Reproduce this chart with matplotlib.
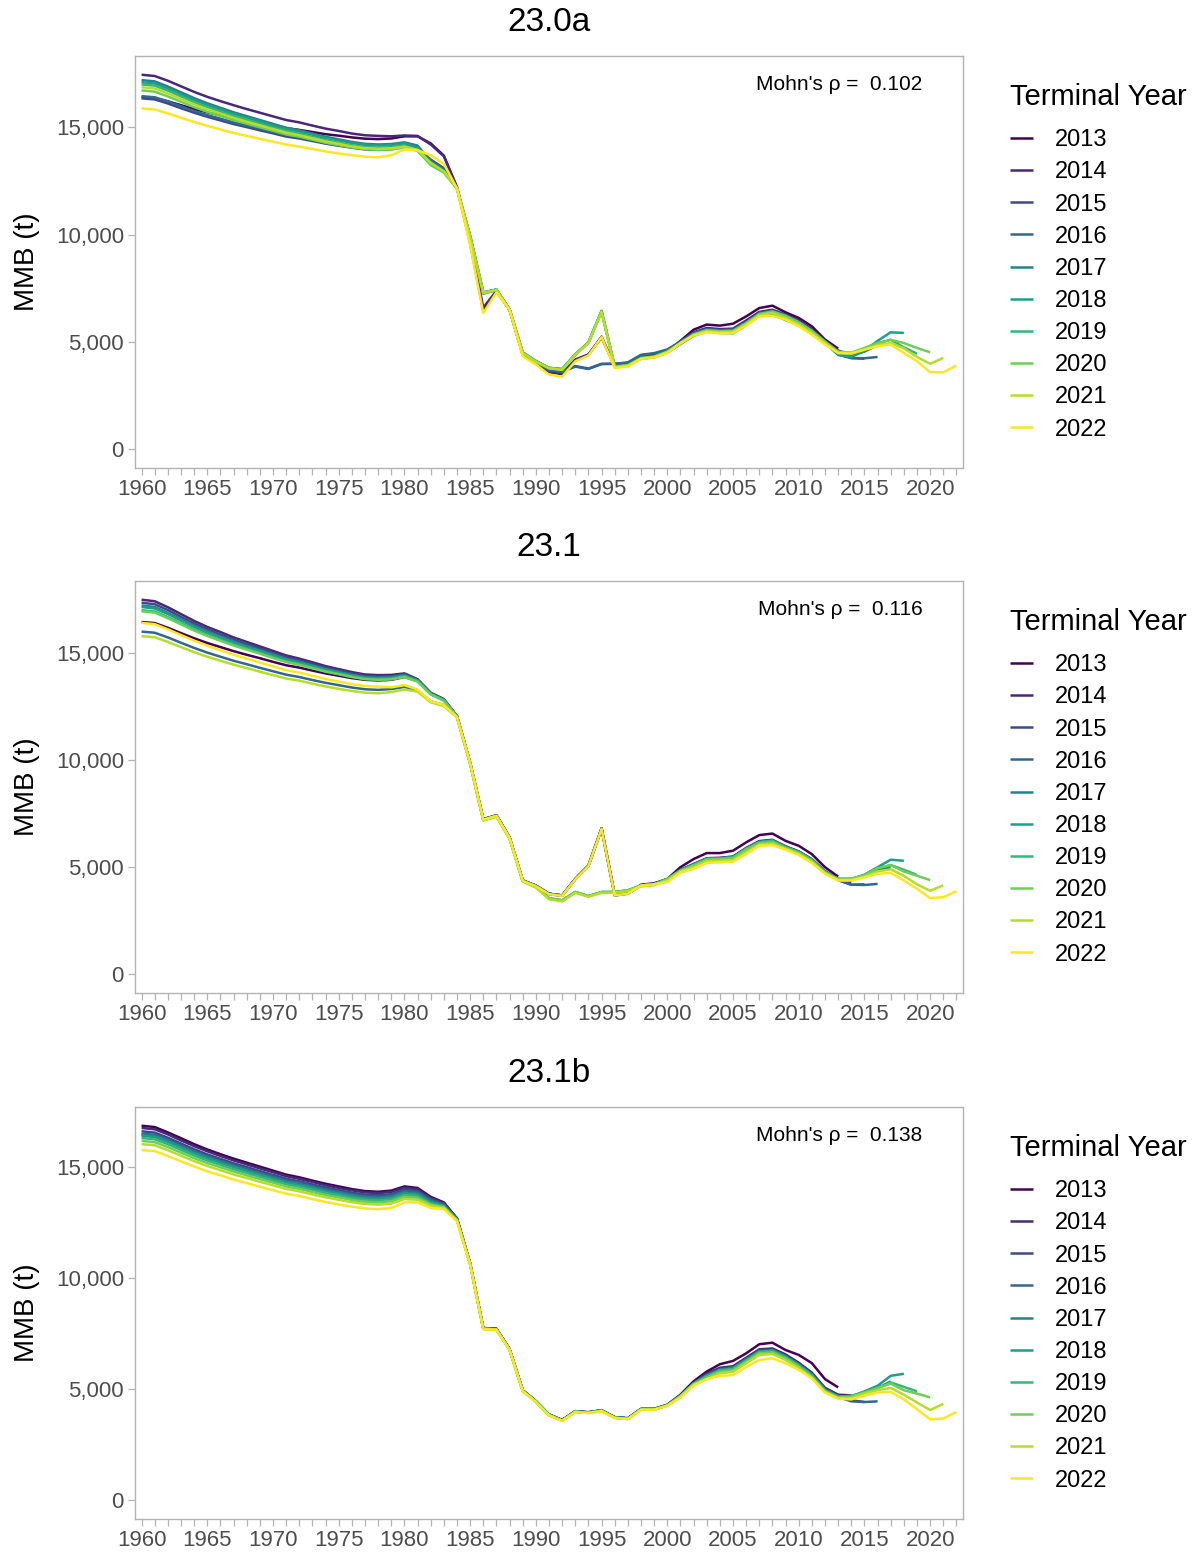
import numpy as np
import matplotlib
matplotlib.use("Agg")
import matplotlib.pyplot as plt
from matplotlib.ticker import MultipleLocator, FuncFormatter

plt.rcParams["font.family"] = ["Liberation Sans", "DejaVu Sans"]

# ---- data: MMB in thousand t, 1960 .. terminal year ----
terminal_years = [2013, 2014, 2015, 2016, 2017, 2018, 2019, 2020, 2021, 2022]
panel_titles = ["23.0a", "23.1", "23.1b"]
mohns_rho = [0.102, 0.116, 0.138]

# model 23.0a
m230a_2013 = [16.40, 16.36, 16.21, 16.03, 15.85, 15.70, 15.56, 15.43, 15.31, 15.19,
              15.07, 14.96, 14.88, 14.78, 14.68, 14.61, 14.53, 14.47, 14.45, 14.48,
              14.58, 14.58, 14.25, 13.68, 12.20, 9.60, 6.45, 7.35, 6.50, 4.40,
              4.00, 3.60, 3.50, 4.15, 4.40, 5.25, 3.85, 3.95, 4.30, 4.38,
              4.55, 5.05, 5.57, 5.81, 5.76, 5.85, 6.19, 6.58, 6.69, 6.38,
              6.12, 5.73, 5.11, 4.69]
m230a_2014 = [17.45, 17.39, 17.17, 16.91, 16.65, 16.42, 16.22, 16.03, 15.85, 15.68,
              15.51, 15.34, 15.23, 15.08, 14.94, 14.83, 14.71, 14.63, 14.60, 14.58,
              14.62, 14.60, 14.20, 13.65, 12.20, 9.70, 6.60, 7.38, 6.50, 4.42,
              4.02, 3.62, 3.52, 4.18, 4.42, 5.20, 3.88, 3.95, 4.32, 4.40,
              4.60, 5.00, 5.45, 5.65, 5.60, 5.62, 6.00, 6.40, 6.50, 6.28,
              6.00, 5.60, 5.05, 4.60, 4.40]
m230a_2015 = [16.35, 16.30, 16.11, 15.89, 15.68, 15.49, 15.32, 15.15, 15.01, 14.86,
              14.72, 14.57, 14.48, 14.36, 14.24, 14.14, 14.05, 13.97, 13.95, 13.98,
              14.10, 14.00, 13.45, 13.05, 12.15, 9.85, 7.25, 7.42, 6.50, 4.45,
              4.05, 3.70, 3.62, 3.88, 3.76, 3.98, 3.98, 4.02, 4.38, 4.45,
              4.62, 5.00, 5.40, 5.58, 5.52, 5.55, 5.90, 6.32, 6.42, 6.22,
              5.92, 5.52, 5.00, 4.45, 4.25, 4.22]
m230a_2016 = [16.45, 16.40, 16.21, 15.98, 15.76, 15.57, 15.40, 15.23, 15.08, 14.93,
              14.78, 14.64, 14.54, 14.42, 14.29, 14.20, 14.10, 14.03, 14.00, 14.03,
              14.15, 14.05, 13.50, 13.10, 12.15, 9.90, 7.30, 7.43, 6.50, 4.45,
              4.05, 3.68, 3.60, 3.85, 3.74, 3.97, 3.98, 4.05, 4.40, 4.48,
              4.65, 5.02, 5.42, 5.60, 5.55, 5.58, 5.92, 6.35, 6.45, 6.25,
              5.95, 5.55, 5.02, 4.40, 4.25, 4.24, 4.30]
m230a_2017 = [17.20, 17.14, 16.90, 16.63, 16.36, 16.12, 15.91, 15.70, 15.52, 15.34,
              15.16, 14.98, 14.86, 14.71, 14.56, 14.44, 14.32, 14.23, 14.20, 14.22,
              14.30, 14.15, 13.40, 13.00, 12.15, 9.95, 7.30, 7.45, 6.52, 4.52,
              4.12, 3.80, 3.74, 4.43, 4.98, 6.45, 3.86, 3.93, 4.26, 4.33,
              4.56, 4.96, 5.36, 5.56, 5.50, 5.52, 5.88, 6.30, 6.42, 6.20,
              5.90, 5.50, 5.00, 4.50, 4.35, 4.55, 4.85, 4.90]
m230a_2018 = [17.10, 17.04, 16.81, 16.54, 16.27, 16.04, 15.83, 15.63, 15.45, 15.27,
              15.09, 14.92, 14.80, 14.65, 14.50, 14.39, 14.27, 14.18, 14.15, 14.17,
              14.25, 14.05, 13.30, 12.95, 12.15, 9.92, 7.30, 7.44, 6.50, 4.50,
              4.10, 3.78, 3.72, 4.42, 4.97, 6.44, 3.84, 3.90, 4.22, 4.30,
              4.52, 4.92, 5.32, 5.52, 5.46, 5.45, 5.80, 6.22, 6.30, 6.02,
              5.78, 5.45, 4.95, 4.40, 4.30, 4.60, 5.05, 5.45, 5.42]
m230a_2019 = [17.00, 16.94, 16.71, 16.44, 16.17, 15.94, 15.73, 15.53, 15.35, 15.17,
              14.99, 14.82, 14.70, 14.55, 14.40, 14.29, 14.17, 14.08, 14.05, 14.07,
              14.15, 13.95, 13.25, 12.90, 12.15, 9.90, 7.28, 7.43, 6.50, 4.50,
              4.10, 3.79, 3.72, 4.41, 4.96, 6.42, 3.85, 3.90, 4.22, 4.28,
              4.50, 4.90, 5.28, 5.48, 5.42, 5.40, 5.78, 6.22, 6.35, 6.12,
              5.85, 5.45, 4.95, 4.45, 4.45, 4.70, 4.95, 5.10, 4.75, 4.45]
m230a_2020 = [16.72, 16.66, 16.44, 16.19, 15.94, 15.72, 15.53, 15.34, 15.17, 15.00,
              14.84, 14.67, 14.56, 14.42, 14.28, 14.17, 14.06, 13.98, 13.95, 13.97,
              14.05, 13.90, 13.25, 12.90, 12.15, 9.90, 7.28, 7.43, 6.50, 4.50,
              4.10, 3.79, 3.72, 4.41, 4.96, 6.42, 3.85, 3.92, 4.25, 4.32,
              4.55, 4.95, 5.35, 5.55, 5.50, 5.52, 5.88, 6.30, 6.42, 6.22,
              5.92, 5.52, 5.02, 4.55, 4.50, 4.72, 4.95, 5.10, 4.95, 4.72,
              4.52]
m230a_2021 = [16.87, 16.81, 16.58, 16.32, 16.07, 15.84, 15.64, 15.44, 15.26, 15.09,
              14.92, 14.75, 14.63, 14.49, 14.34, 14.23, 14.11, 14.03, 14.00, 14.02,
              14.10, 13.95, 13.35, 12.95, 12.15, 9.90, 7.28, 7.43, 6.50, 4.48,
              4.08, 3.77, 3.70, 4.40, 4.95, 6.40, 3.83, 3.90, 4.23, 4.30,
              4.52, 4.93, 5.32, 5.50, 5.45, 5.47, 5.82, 6.25, 6.35, 6.12,
              5.82, 5.42, 4.95, 4.50, 4.48, 4.65, 4.85, 4.95, 4.70, 4.30,
              3.98, 4.26]
m230a_2022 = [15.88, 15.83, 15.65, 15.45, 15.25, 15.07, 14.90, 14.74, 14.60, 14.46,
              14.33, 14.20, 14.10, 13.99, 13.88, 13.78, 13.70, 13.63, 13.60, 13.70,
              13.97, 13.93, 13.70, 13.30, 12.15, 9.50, 6.35, 7.31, 6.50, 4.33,
              3.95, 3.48, 3.38, 4.10, 4.37, 5.23, 3.79, 3.85, 4.21, 4.28,
              4.49, 4.95, 5.30, 5.45, 5.40, 5.42, 5.76, 6.19, 6.22, 6.04,
              5.73, 5.34, 4.88, 4.49, 4.46, 4.64, 4.80, 4.88, 4.49, 4.10,
              3.59, 3.59, 3.90]

# model 23.1
m231_2013 = [16.45, 16.40, 16.18, 15.93, 15.69, 15.47, 15.28, 15.09, 14.92, 14.76,
             14.59, 14.43, 14.32, 14.18, 14.05, 13.94, 13.83, 13.75, 13.72, 13.75,
             13.88, 13.70, 13.10, 12.80, 12.05, 9.87, 7.24, 7.42, 6.39, 4.38,
             4.14, 3.76, 3.68, 4.45, 5.07, 6.81, 3.68, 3.78, 4.18, 4.25,
             4.45, 5.00, 5.38, 5.66, 5.66, 5.77, 6.16, 6.50, 6.57, 6.23,
             6.00, 5.61, 5.00, 4.56]
m231_2014 = [17.49, 17.42, 17.14, 16.82, 16.50, 16.22, 15.98, 15.73, 15.52, 15.31,
             15.10, 14.89, 14.74, 14.57, 14.39, 14.25, 14.11, 14.00, 13.97, 13.98,
             14.05, 13.78, 13.15, 12.85, 12.05, 9.87, 7.24, 7.42, 6.39, 4.38,
             4.14, 3.76, 3.68, 4.45, 5.07, 6.81, 3.70, 3.78, 4.17, 4.22,
             4.42, 4.88, 5.15, 5.42, 5.44, 5.50, 5.90, 6.22, 6.28, 5.98,
             5.74, 5.38, 4.82, 4.45, 4.30]
m231_2015 = [17.35, 17.28, 17.01, 16.69, 16.38, 16.11, 15.87, 15.63, 15.42, 15.21,
             15.00, 14.80, 14.66, 14.49, 14.31, 14.18, 14.04, 13.93, 13.90, 13.92,
             14.00, 13.75, 13.13, 12.83, 12.05, 9.87, 7.24, 7.42, 6.39, 4.38,
             4.14, 3.76, 3.68, 4.45, 5.07, 6.81, 3.70, 3.78, 4.16, 4.22,
             4.42, 4.86, 5.12, 5.40, 5.42, 5.47, 5.87, 6.18, 6.25, 5.95,
             5.72, 5.35, 4.78, 4.40, 4.18, 4.20]
m231_2016 = [16.00, 15.95, 15.73, 15.48, 15.24, 15.02, 14.83, 14.64, 14.48, 14.31,
             14.15, 13.99, 13.88, 13.74, 13.61, 13.50, 13.39, 13.31, 13.28, 13.32,
             13.42, 13.25, 12.75, 12.57, 12.00, 9.85, 7.22, 7.40, 6.37, 4.36,
             4.12, 3.74, 3.66, 4.43, 5.05, 6.79, 3.68, 3.76, 4.15, 4.20,
             4.40, 4.85, 5.10, 5.38, 5.40, 5.45, 5.85, 6.16, 6.22, 5.92,
             5.70, 5.33, 4.76, 4.40, 4.18, 4.17, 4.22]
m231_2017 = [17.22, 17.15, 16.88, 16.58, 16.28, 16.01, 15.77, 15.54, 15.33, 15.13,
             14.93, 14.73, 14.59, 14.42, 14.25, 14.12, 13.98, 13.88, 13.85, 13.87,
             13.97, 13.73, 13.12, 12.82, 12.05, 9.87, 7.24, 7.42, 6.39, 4.38,
             4.14, 3.76, 3.68, 4.45, 5.07, 6.81, 3.70, 3.78, 4.15, 4.22,
             4.42, 4.85, 5.10, 5.38, 5.40, 5.45, 5.85, 6.16, 6.23, 5.93,
             5.70, 5.34, 4.77, 4.45, 4.42, 4.58, 4.88, 5.00]
m231_2018 = [17.15, 17.08, 16.82, 16.52, 16.22, 15.95, 15.72, 15.48, 15.28, 15.09,
             14.89, 14.69, 14.55, 14.39, 14.22, 14.09, 13.95, 13.85, 13.82, 13.84,
             13.94, 13.72, 13.10, 12.80, 12.05, 9.85, 7.20, 7.38, 6.35, 4.35,
             4.08, 3.55, 3.45, 3.84, 3.65, 3.84, 3.84, 3.92, 4.14, 4.20,
             4.45, 4.87, 5.12, 5.40, 5.42, 5.47, 5.87, 6.18, 6.25, 5.95,
             5.72, 5.36, 4.80, 4.45, 4.45, 4.65, 5.00, 5.35, 5.30]
m231_2019 = [17.00, 16.94, 16.68, 16.39, 16.10, 15.84, 15.61, 15.39, 15.19, 15.00,
             14.80, 14.61, 14.48, 14.32, 14.16, 14.03, 13.90, 13.80, 13.77, 13.79,
             13.90, 13.68, 13.08, 12.78, 12.03, 9.85, 7.20, 7.38, 6.35, 4.35,
             4.08, 3.55, 3.45, 3.84, 3.65, 3.84, 3.84, 3.92, 4.14, 4.20,
             4.45, 4.85, 5.10, 5.38, 5.40, 5.45, 5.85, 6.16, 6.23, 5.93,
             5.70, 5.34, 4.77, 4.45, 4.45, 4.62, 4.95, 5.10, 4.88, 4.64]
m231_2020 = [16.95, 16.89, 16.63, 16.34, 16.05, 15.80, 15.57, 15.35, 15.16, 14.97,
             14.77, 14.58, 14.45, 14.29, 14.13, 14.01, 13.88, 13.78, 13.75, 13.77,
             13.88, 13.66, 13.07, 12.77, 12.03, 9.85, 7.20, 7.38, 6.35, 4.35,
             4.08, 3.55, 3.45, 3.84, 3.65, 3.84, 3.84, 3.92, 4.14, 4.20,
             4.43, 4.83, 5.08, 5.35, 5.38, 5.42, 5.82, 6.12, 6.18, 5.90,
             5.66, 5.30, 4.75, 4.45, 4.47, 4.62, 4.95, 5.10, 4.80, 4.60,
             4.40]
m231_2021 = [15.79, 15.74, 15.52, 15.28, 15.04, 14.83, 14.64, 14.46, 14.30, 14.13,
             13.97, 13.81, 13.71, 13.57, 13.44, 13.33, 13.23, 13.15, 13.12, 13.18,
             13.30, 13.20, 12.70, 12.52, 12.00, 9.83, 7.18, 7.36, 6.33, 4.33,
             4.05, 3.50, 3.40, 3.80, 3.62, 3.80, 3.80, 3.88, 4.10, 4.16,
             4.38, 4.80, 5.00, 5.28, 5.30, 5.33, 5.70, 6.06, 6.10, 5.86,
             5.62, 5.25, 4.72, 4.40, 4.40, 4.55, 4.80, 4.90, 4.60, 4.20,
             3.90, 4.15]
m231_2022 = [16.41, 16.35, 16.11, 15.84, 15.58, 15.34, 15.13, 14.92, 14.74, 14.56,
             14.38, 14.20, 14.09, 13.94, 13.79, 13.67, 13.55, 13.46, 13.43, 13.40,
             13.50, 13.30, 12.75, 12.58, 12.00, 9.85, 7.22, 7.40, 6.37, 4.36,
             4.12, 3.74, 3.66, 4.43, 5.05, 6.79, 3.68, 3.76, 4.14, 4.20,
             4.30, 4.75, 4.92, 5.20, 5.23, 5.26, 5.61, 6.00, 6.03, 5.82,
             5.57, 5.20, 4.69, 4.38, 4.38, 4.53, 4.69, 4.74, 4.38, 3.99,
             3.56, 3.60, 3.88]

# model 23.1b
m231b_2013 = [16.85, 16.79, 16.55, 16.29, 16.02, 15.78, 15.57, 15.37, 15.19, 15.01,
              14.83, 14.65, 14.53, 14.38, 14.24, 14.12, 14.00, 13.91, 13.88, 13.93,
              14.12, 14.05, 13.65, 13.40, 12.68, 10.66, 7.75, 7.72, 6.80, 4.95,
              4.46, 3.86, 3.61, 4.01, 3.96, 4.05, 3.74, 3.69, 4.11, 4.11,
              4.30, 4.75, 5.35, 5.79, 6.12, 6.27, 6.61, 7.02, 7.09, 6.76,
              6.54, 6.17, 5.45, 5.08]
m231b_2014 = [16.75, 16.69, 16.46, 16.19, 15.93, 15.70, 15.49, 15.29, 15.11, 14.93,
              14.76, 14.58, 14.46, 14.32, 14.17, 14.05, 13.94, 13.85, 13.82, 13.87,
              14.06, 14.00, 13.60, 13.37, 12.67, 10.65, 7.74, 7.71, 6.80, 4.95,
              4.46, 3.86, 3.61, 4.01, 3.96, 4.05, 3.74, 3.69, 4.11, 4.11,
              4.29, 4.72, 5.28, 5.70, 5.96, 6.03, 6.41, 6.79, 6.83, 6.56,
              6.19, 5.74, 5.06, 4.75, 4.72]
m231b_2015 = [16.60, 16.54, 16.31, 16.05, 15.79, 15.56, 15.36, 15.16, 14.99, 14.81,
              14.64, 14.47, 14.35, 14.21, 14.07, 13.95, 13.84, 13.75, 13.72, 13.77,
              13.98, 13.92, 13.55, 13.33, 12.66, 10.65, 7.74, 7.71, 6.79, 4.94,
              4.45, 3.85, 3.60, 4.00, 3.95, 4.04, 3.73, 3.68, 4.10, 4.10,
              4.28, 4.71, 5.27, 5.65, 5.91, 5.98, 6.36, 6.74, 6.78, 6.51,
              6.14, 5.69, 5.01, 4.70, 4.50, 4.42]
m231b_2016 = [16.50, 16.44, 16.22, 15.96, 15.70, 15.47, 15.27, 15.08, 14.90, 14.73,
              14.56, 14.39, 14.28, 14.13, 13.99, 13.88, 13.76, 13.68, 13.65, 13.70,
              13.90, 13.85, 13.50, 13.30, 12.65, 10.64, 7.73, 7.70, 6.79, 4.94,
              4.45, 3.85, 3.60, 4.00, 3.95, 4.04, 3.73, 3.68, 4.10, 4.10,
              4.28, 4.70, 5.26, 5.63, 5.89, 5.96, 6.34, 6.72, 6.76, 6.49,
              6.12, 5.67, 4.99, 4.65, 4.45, 4.42, 4.45]
m231b_2017 = [16.45, 16.39, 16.17, 15.91, 15.65, 15.42, 15.22, 15.03, 14.85, 14.68,
              14.51, 14.34, 14.23, 14.08, 13.94, 13.83, 13.71, 13.63, 13.60, 13.65,
              13.85, 13.80, 13.45, 13.27, 12.64, 10.64, 7.73, 7.70, 6.79, 4.94,
              4.45, 3.85, 3.60, 4.00, 3.95, 4.04, 3.73, 3.68, 4.10, 4.10,
              4.28, 4.70, 5.25, 5.60, 5.86, 5.93, 6.31, 6.69, 6.73, 6.46,
              6.09, 5.64, 4.96, 4.68, 4.65, 4.85, 5.05, 5.34]
m231b_2018 = [16.40, 16.34, 16.12, 15.86, 15.60, 15.37, 15.17, 14.98, 14.80, 14.63,
              14.46, 14.29, 14.18, 14.03, 13.89, 13.78, 13.66, 13.58, 13.55, 13.60,
              13.80, 13.75, 13.40, 13.25, 12.63, 10.63, 7.72, 7.69, 6.78, 4.93,
              4.44, 3.84, 3.59, 3.99, 3.94, 4.03, 3.72, 3.67, 4.09, 4.09,
              4.27, 4.70, 5.25, 5.60, 5.86, 5.93, 6.31, 6.69, 6.73, 6.46,
              6.09, 5.64, 4.96, 4.68, 4.68, 4.90, 5.15, 5.60, 5.69]
m231b_2019 = [16.30, 16.24, 16.02, 15.76, 15.51, 15.28, 15.09, 14.89, 14.72, 14.55,
              14.38, 14.21, 14.10, 13.96, 13.82, 13.71, 13.59, 13.51, 13.48, 13.53,
              13.73, 13.68, 13.35, 13.22, 12.62, 10.63, 7.72, 7.69, 6.78, 4.93,
              4.44, 3.84, 3.59, 3.99, 3.94, 4.03, 3.72, 3.67, 4.09, 4.09,
              4.27, 4.69, 5.24, 5.57, 5.83, 5.90, 6.28, 6.66, 6.70, 6.43,
              6.06, 5.61, 4.93, 4.66, 4.70, 4.85, 5.05, 5.30, 5.10, 4.90]
m231b_2020 = [16.17, 16.11, 15.89, 15.64, 15.39, 15.17, 14.98, 14.79, 14.62, 14.45,
              14.29, 14.12, 14.01, 13.87, 13.73, 13.62, 13.51, 13.43, 13.40, 13.45,
              13.65, 13.60, 13.30, 13.18, 12.60, 10.62, 7.71, 7.68, 6.77, 4.92,
              4.43, 3.83, 3.58, 3.98, 3.93, 4.02, 3.71, 3.66, 4.08, 4.08,
              4.26, 4.68, 5.22, 5.52, 5.78, 5.85, 6.23, 6.61, 6.65, 6.38,
              6.01, 5.56, 4.90, 4.62, 4.65, 4.85, 5.05, 5.25, 4.95, 4.80,
              4.63]
m231b_2021 = [16.02, 15.97, 15.75, 15.50, 15.26, 15.04, 14.85, 14.66, 14.50, 14.33,
              14.17, 14.01, 13.90, 13.76, 13.63, 13.52, 13.41, 13.33, 13.30, 13.35,
              13.55, 13.52, 13.25, 13.15, 12.58, 10.62, 7.71, 7.68, 6.77, 4.92,
              4.43, 3.83, 3.58, 3.98, 3.93, 4.02, 3.71, 3.66, 4.08, 4.08,
              4.26, 4.66, 5.20, 5.45, 5.71, 5.78, 6.16, 6.54, 6.58, 6.31,
              5.94, 5.49, 4.88, 4.60, 4.60, 4.80, 4.95, 5.05, 4.75, 4.40,
              4.06, 4.34]
m231b_2022 = [15.76, 15.71, 15.49, 15.25, 15.02, 14.80, 14.62, 14.43, 14.27, 14.11,
              13.95, 13.79, 13.69, 13.55, 13.42, 13.31, 13.21, 13.13, 13.10, 13.15,
              13.40, 13.40, 13.15, 13.10, 12.55, 10.60, 7.70, 7.67, 6.76, 4.91,
              4.42, 3.82, 3.57, 3.97, 3.92, 4.01, 3.70, 3.65, 4.07, 4.07,
              4.25, 4.62, 5.15, 5.45, 5.60, 5.63, 6.00, 6.31, 6.39, 6.16,
              5.87, 5.49, 4.84, 4.57, 4.54, 4.70, 4.85, 4.88, 4.54, 4.10,
              3.64, 3.68, 3.97]

panel_series = [
    [m230a_2013, m230a_2014, m230a_2015, m230a_2016, m230a_2017,
     m230a_2018, m230a_2019, m230a_2020, m230a_2021, m230a_2022],
    [m231_2013, m231_2014, m231_2015, m231_2016, m231_2017,
     m231_2018, m231_2019, m231_2020, m231_2021, m231_2022],
    [m231b_2013, m231b_2014, m231b_2015, m231b_2016, m231b_2017,
     m231b_2018, m231b_2019, m231b_2020, m231b_2021, m231b_2022],
]

# ---- plot ----
colors = plt.cm.viridis(np.linspace(0, 1, len(terminal_years)))
border = "#b3b3b3"
W, H = 1197, 1557
fig = plt.figure(figsize=(W / 100, H / 100), dpi=100)

ax_left, ax_right = 135, 963
ax_bottoms = [468, 993, 1519]
ax_h = 412

for i, (title, rho, series) in enumerate(zip(panel_titles, mohns_rho, panel_series)):
    ax = fig.add_axes([ax_left / W, 1 - ax_bottoms[i] / H,
                       (ax_right - ax_left) / W, ax_h / H])
    ymax = 0
    for ty, vals, c in zip(terminal_years, series, colors):
        yrs = np.arange(1960, 1960 + len(vals))
        y = np.array(vals) * 1000
        ymax = max(ymax, y.max())
        ax.plot(yrs, y, color=c, lw=1.8, label=str(ty), solid_capstyle="butt")

    ax.set_xlim(1959.5, 2022.5)
    ax.set_ylim(-0.05 * ymax, 1.05 * ymax)
    ax.xaxis.set_major_locator(MultipleLocator(5))
    ax.xaxis.set_minor_locator(MultipleLocator(1))
    ax.set_yticks([0, 5000, 10000, 15000])
    ax.yaxis.set_major_formatter(FuncFormatter(lambda v, p: f"{int(v):,}"))
    ax.tick_params(axis="both", which="both", color=border, length=5, width=0.9,
                   labelsize=16, labelcolor="#4d4d4d", pad=3)
    for s in ax.spines.values():
        s.set_color(border)
        s.set_linewidth(1.0)

    ax.set_title(title, fontsize=24, pad=18)
    ax.set_ylabel("MMB (t)", fontsize=20, labelpad=11)
    ax.text(0.951, 0.93, f"Mohn's \u03c1 =  {rho:.3f}", transform=ax.transAxes,
            ha="right", va="center", fontsize=15)

    leg = ax.legend(loc="upper left", bbox_to_anchor=(1.057, 0.934), frameon=False,
                    title="Terminal Year", fontsize=17, title_fontsize=21,
                    handlelength=0.95, handletextpad=0.95, labelspacing=0.43,
                    borderaxespad=0, borderpad=0, alignment="left")
    leg._legend_box.sep = 13

fig.savefig("out.png", dpi=100)
